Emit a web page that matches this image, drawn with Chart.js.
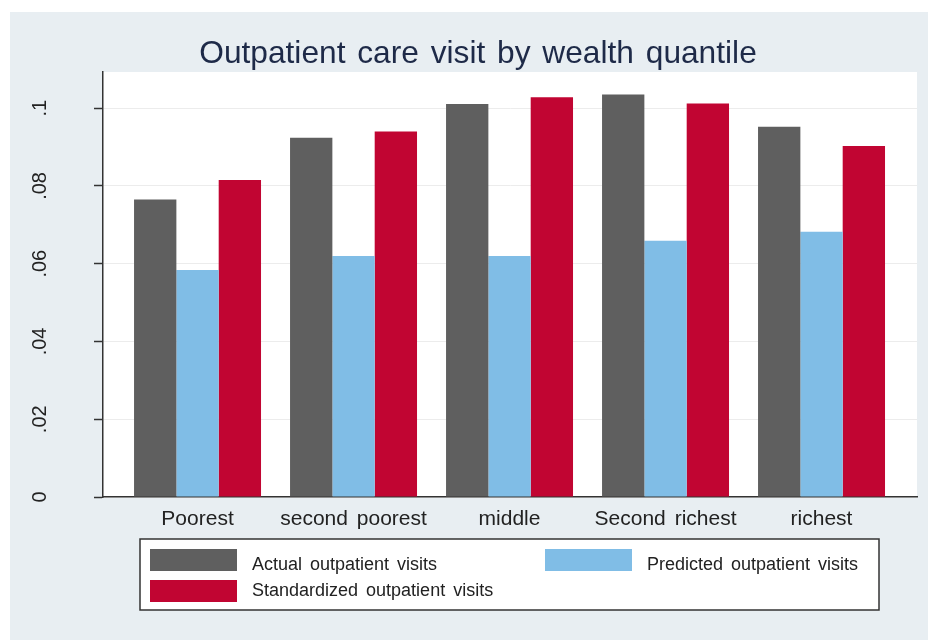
<!DOCTYPE html>
<html>
<head>
<meta charset="utf-8">
<script src="https://cdn.jsdelivr.net/npm/chart.js@4.4.0/dist/chart.umd.min.js"></script>
<style>
  html, body { margin: 0; padding: 0; background: #ffffff; }
  #wrap { width: 930px; height: 640px; }
</style>
</head>
<body>
<div id="wrap"><canvas id="chart" width="930" height="640"></canvas></div>
<script>
// values
var chartTitle = 'Outpatient care visit by wealth quantile';
var categories = ['Poorest', 'second poorest', 'middle', 'Second richest', 'richest'];
var actualVisits = [0.0765, 0.0924, 0.1011, 0.1035, 0.0952];
var predictedVisits = [0.0584, 0.0620, 0.0620, 0.0659, 0.0682];
var standardizedVisits = [0.0815, 0.0940, 0.1028, 0.1012, 0.0903];
var seriesNames = ['Actual outpatient visits', 'Predicted outpatient visits', 'Standardized outpatient visits'];
var seriesColors = ['#5f5f5f', '#80bde6', '#c10532'];
var yTicks = [0, 0.02, 0.04, 0.06, 0.08, 0.1];
var yTickLabels = ['0', '.02', '.04', '.06', '.08', '.1'];

var FONT = '"Liberation Sans", Arial, sans-serif';
Chart.defaults.font.family = FONT;

function toPoints(values) {
    return values.map(function (v, i) { return { x: i, y: v }; });
}

// grey-blue page background and white plot region, Stata style
var stataBackground = {
    id: 'stataBackground',
    beforeDraw: function (chart) {
        var ctx = chart.ctx, a = chart.chartArea;
        ctx.wordSpacing = '3px';
        ctx.save();
        ctx.fillStyle = '#e8eef2';
        ctx.fillRect(10, 12, 918, 628);
        ctx.fillStyle = '#ffffff';
        ctx.fillRect(a.left, a.top, a.right - a.left, a.bottom - a.top);
        ctx.fillStyle = '#1e2a48';
        ctx.font = '31.7px ' + FONT;
        ctx.textAlign = 'center';
        ctx.textBaseline = 'alphabetic';
        ctx.fillText(chartTitle, 478, 63);
        ctx.restore();
    }
};

// boxed legend, two columns filled row by row
var stataLegend = {
    id: 'stataLegend',
    afterDraw: function (chart) {
        var ctx = chart.ctx;
        ctx.save();
        ctx.fillStyle = '#ffffff';
        ctx.fillRect(140, 539, 739, 71);
        ctx.strokeStyle = '#333333';
        ctx.lineWidth = 1.5;
        ctx.strokeRect(140, 539, 739, 71);
        ctx.font = '18px ' + FONT;
        ctx.textBaseline = 'alphabetic';
        ctx.textAlign = 'left';
        chart.data.datasets.forEach(function (ds, i) {
            var col = i % 2, row = Math.floor(i / 2);
            var sx = col === 0 ? 150 : 545;
            var sy = row === 0 ? 549 : 580;
            ctx.fillStyle = ds.backgroundColor;
            ctx.fillRect(sx, sy, 87, 22);
            ctx.fillStyle = '#222222';
            ctx.fillText(ds.label, sx + 102, row === 0 ? 570 : 596);
        });
        ctx.restore();
    }
};

var ctx = document.getElementById('chart').getContext('2d');
var chart = new Chart(ctx, {
    type: 'bar',
    data: {
        datasets: [
            { label: seriesNames[0], data: toPoints(actualVisits), backgroundColor: seriesColors[0] },
            { label: seriesNames[1], data: toPoints(predictedVisits), backgroundColor: seriesColors[1] },
            { label: seriesNames[2], data: toPoints(standardizedVisits), backgroundColor: seriesColors[2] }
        ]
    },
    options: {
        responsive: false,
        animation: false,
        categoryPercentage: 0.814,
        barPercentage: 1.0,
        layout: { padding: { left: 20, right: 13, top: 72, bottom: 107 } },
        plugins: {
            legend: { display: false },
            tooltip: { enabled: false },
            title: { display: false }
        },
        scales: {
            x: {
                type: 'linear',
                offset: false,
                min: -0.606,
                max: 4.612,
                afterBuildTicks: function (scale) {
                    scale.ticks = categories.map(function (c, i) { return { value: i }; });
                },
                afterFit: function (scale) { scale.height = 36; },
                grid: { offset: false, drawOnChartArea: false, drawTicks: false },
                border: { color: '#333333', width: 1.5 },
                ticks: {
                    autoSkip: false,
                    minRotation: 0,
                    maxRotation: 0,
                    padding: 10,
                    color: '#222222',
                    font: { size: 21 },
                    callback: function (value) { return categories[value]; }
                }
            },
            y: {
                min: 0,
                max: 0.1093,
                afterBuildTicks: function (scale) {
                    scale.ticks = yTicks.map(function (v) { return { value: v }; });
                },
                afterFit: function (scale) { scale.width = 83; },
                grid: { color: '#ececec', lineWidth: 1, tickColor: '#333333', tickLength: 9, tickWidth: 1.5 },
                border: { color: '#333333', width: 1.5 },
                ticks: {
                    autoSkip: false,
                    minRotation: 90,
                    maxRotation: 90,
                    crossAlign: 'center',
                    padding: 40,
                    color: '#222222',
                    font: { size: 20 },
                    callback: function (value, index) { return yTickLabels[index]; }
                }
            }
        }
    },
    plugins: [stataBackground, stataLegend]
});
</script>
</body>
</html>
